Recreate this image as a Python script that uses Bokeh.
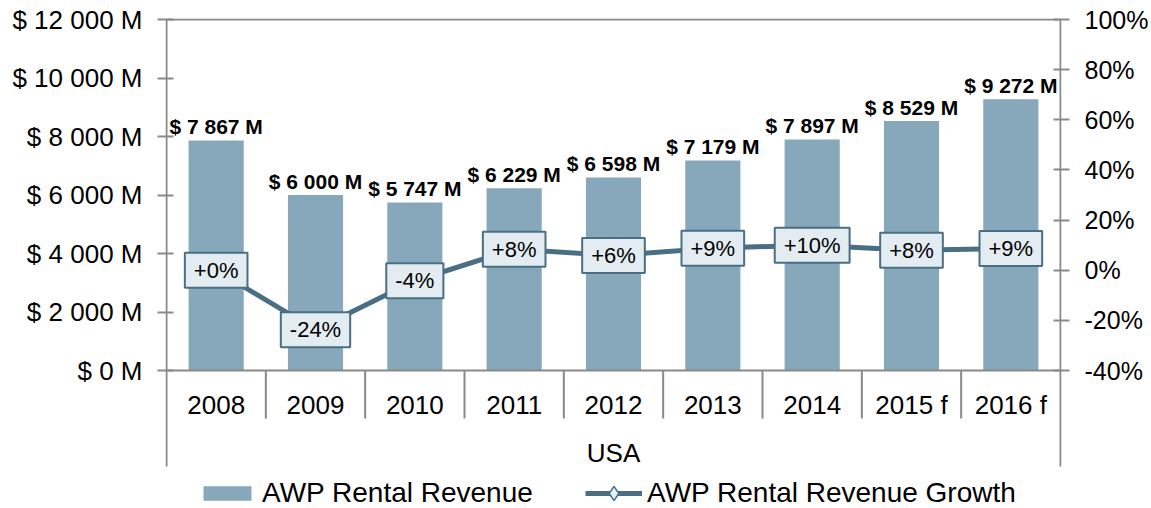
from bokeh.plotting import figure
from bokeh.models import Range1d, LinearAxis, FixedTicker, Label, Legend, LegendItem
from bokeh.core.properties import value
from bokeh.embed import file_html
from bokeh.resources import INLINE

# ---- data ----
categories = ["2008", "2009", "2010", "2011", "2012", "2013", "2014", "2015 f", "2016 f"]
revenue = [7867, 6000, 5747, 6229, 6598, 7179, 7897, 8529, 9272]
revenue_labels = ["$ 7 867 M", "$ 6 000 M", "$ 5 747 M", "$ 6 229 M", "$ 6 598 M",
                  "$ 7 179 M", "$ 7 897 M", "$ 8 529 M", "$ 9 272 M"]
growth = [0.0, -23.7, -4.2, 8.4, 5.9, 8.8, 10.0, 8.0, 8.7]
growth_labels = ["+0%", "-24%", "-4%", "+8%", "+6%", "+9%", "+10%", "+8%", "+9%"]
left_ticks = [0, 2000, 4000, 6000, 8000, 10000, 12000]
left_tick_labels = ["$ 0 M", "$ 2 000 M", "$ 4 000 M", "$ 6 000 M", "$ 8 000 M",
                    "$ 10 000 M", "$ 12 000 M"]
right_ticks = [-40, -20, 0, 20, 40, 60, 80, 100]
right_tick_labels = ["-40%", "-20%", "0%", "20%", "40%", "60%", "80%", "100%"]
group_label = "USA"
series_names = ["AWP Rental Revenue", "AWP Rental Revenue Growth"]

# ---- layout / style ----
FONT = "Liberation Sans"
BAR = "#87a7ba"
LINE = "#4a6f84"
BOXFILL = "#e2ecf1"
GRAY = "#898989"

W, H = 1151, 508
FL, FR, FT, FB = 165, 89, 18, 0
frame_w = W - FL - FR
frame_h = H - FT - FB
n = len(categories)
xpx = (frame_w - 2) / n
plot_px = 351
ymax = left_ticks[-1]
dpp = ymax / plot_px
below_px = frame_h - 1 - plot_px
rmin, rmax = right_ticks[0], right_ticks[-1]
rpp = (rmax - rmin) / plot_px

p = figure(width=W, height=H,
           x_range=Range1d(-1 / xpx, n + 1 / xpx),
           y_range=Range1d(-below_px * dpp, ymax + dpp),
           output_backend="svg", toolbar_location=None,
           x_axis_location=None, y_axis_location=None,
           min_border_left=FL, min_border_right=FR,
           min_border_top=FT, min_border_bottom=FB,
           outline_line_color=None, background_fill_color="white",
           border_fill_color="white")
p.extra_y_ranges = {"pct": Range1d(rmin - below_px * rpp, rmax + rpp)}
p.grid.visible = False

def style_axis(ax, standoff, size):
    ax.axis_line_color = None
    ax.major_tick_in = 8
    ax.major_tick_out = 8
    ax.major_tick_line_color = GRAY
    ax.major_tick_line_width = 2
    ax.minor_tick_line_color = None
    ax.major_label_text_font = FONT
    ax.major_label_text_font_size = size
    ax.major_label_text_color = "black"
    ax.major_label_standoff = standoff

la = LinearAxis(ticker=FixedTicker(ticks=left_ticks, minor_ticks=[]),
                major_label_overrides=dict(zip(left_ticks, left_tick_labels)))
style_axis(la, 15, "26px")
p.add_layout(la, "left")

ra = LinearAxis(y_range_name="pct", ticker=FixedTicker(ticks=right_ticks, minor_ticks=[]),
                major_label_overrides=dict(zip(right_ticks, right_tick_labels)))
style_axis(ra, 15, "25px")
p.add_layout(ra, "right")

xc = [i + 0.5 for i in range(n)]

bars = p.vbar(x=xc, top=revenue, bottom=0, width=0.555, fill_color=BAR, line_color=None)

# frame lines
p.segment(x0=[0, n], y0=[ymax, ymax], x1=[0, n], y1=[-96 * dpp, -96 * dpp],
          line_color=GRAY, line_width=2)
p.segment(x0=[0, 0], y0=[ymax, 0], x1=[n, n], y1=[ymax, 0], line_color=GRAY, line_width=2)
p.segment(x0=list(range(1, n)), y0=[0] * (n - 1), x1=list(range(1, n)),
          y1=[-48 * dpp] * (n - 1), line_color=GRAY, line_width=2)

# category labels
p.text(x=xc, y=[-34 * dpp] * n, text=categories, text_align="center", text_baseline="middle",
       text_font=value(FONT), text_font_size="26px", text_color="black")
p.text(x=[n / 2], y=[-82 * dpp], text=[group_label], text_align="center",
       text_baseline="middle", text_font=value(FONT), text_font_size="26px", text_color="black")

# bar value labels
p.text(x=xc, y=revenue, text=revenue_labels, text_align="center", text_baseline="alphabetic",
       y_offset=-14, text_font=value(FONT), text_font_style="bold", text_font_size="21px",
       text_color="black")

line = p.line(xc, growth, y_range_name="pct", line_color=LINE, line_width=5)
pts = p.scatter(xc, growth, y_range_name="pct", marker="diamond", size=14,
                fill_color="#e0f4fa", line_color=LINE, line_width=1.5)

for x, g, t in zip(xc, growth, growth_labels):
    p.add_layout(Label(x=x, y=g, y_range_name="pct", text=t, text_align="center",
                       text_baseline="middle", text_font=FONT, text_font_size="22px",
                       text_color="black", background_fill_color=BOXFILL,
                       border_line_color=LINE, border_line_width=2,
                       padding=dict(left=9, right=9, top=5, bottom=5)))

def make_legend(items, loc, gw, gh):
    return Legend(items=items, location=loc, orientation="horizontal",
                  glyph_width=gw, glyph_height=gh, label_standoff=5, padding=0,
                  margin=0, spacing=0, border_line_color=None, background_fill_alpha=0,
                  label_text_font=FONT, label_text_font_size="28px",
                  label_text_color="black")

leg1 = make_legend([LegendItem(label=series_names[0], renderers=[bars])], (32, -1), 60, 18)
leg2 = make_legend([LegendItem(label=series_names[1], renderers=[line, pts])], (420, -3), 57, 36)
p.add_layout(leg1)
p.add_layout(leg2)

open("out.html", "w").write(file_html(p, INLINE))
